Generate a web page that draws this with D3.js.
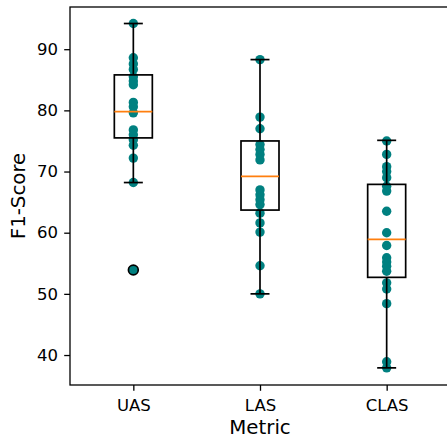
<!DOCTYPE html>
<html>
<head>
<meta charset="utf-8">
<script src="https://cdn.jsdelivr.net/npm/d3@7"></script>
<style>
  body { margin: 0; background: #fff; }
  svg { display: block; font-family: "DejaVu Sans", sans-serif; }
</style>
</head>
<body>
<div id="chart"></div>
<script>
// data
const metrics = ['UAS', 'LAS', 'CLAS'];

const uasScores = [94.2, 88.6, 87.6, 86.7, 85.5, 84.8, 84.2, 81.3, 80.6, 79.6, 76.8, 76.0, 75.2, 74.3, 72.2, 68.2, 53.9];
const lasScores = [88.3, 78.9, 77.0, 74.4, 73.6, 72.8, 71.9, 67.0, 66.2, 65.4, 64.6, 63.2, 61.6, 60.1, 54.6, 50.0];
const clasScores = [75.0, 72.8, 70.8, 70.0, 69.0, 67.6, 66.8, 63.5, 60.0, 57.9, 55.9, 55.2, 54.5, 53.7, 51.8, 50.8, 48.4, 38.9, 37.9];

// box statistics as drawn
const q1s = [75.5, 63.7, 52.7];
const medians = [79.8, 69.2, 58.9];
const q3s = [85.8, 75.0, 67.9];
const whiskerLo = [68.2, 50.0, 37.9];
const whiskerHi = [94.2, 88.3, 75.1];
const fliers = [[53.9], [], []];

const yTicks = [40, 50, 60, 70, 80, 90];

// layout
const fullWidth = 447;
const fullHeight = 439;
const margin = { top: 7, left: 70, bottom: 54 };
const plotRight = 450; // right spine falls just past the picture edge
const height = fullHeight - margin.top - margin.bottom;

const svg = d3.select('#chart').append('svg')
  .attr('width', fullWidth)
  .attr('height', fullHeight);

const x = d3.scalePoint()
  .domain(metrics)
  .range([margin.left, plotRight])
  .padding(0.5);

const y = d3.scaleLinear()
  .domain([35.1, 96.9])
  .range([margin.top + height, margin.top]);

const boxW = x.step() * 0.3;
const capW = boxW / 2;
const lw = 1.7;

const scores = [uasScores, lasScores, clasScores];
const groups = metrics.map((m, i) => ({
  metric: m,
  values: scores[i],
  q1: q1s[i], med: medians[i], q3: q3s[i],
  lo: whiskerLo[i], hi: whiskerHi[i],
  fliers: fliers[i]
}));

// points (under the box lines)
const points = groups.flatMap(g => g.values.map(v => ({ metric: g.metric, v })));
svg.append('g').selectAll('circle')
  .data(points)
  .join('circle')
  .attr('cx', d => x(d.metric))
  .attr('cy', d => y(d.v))
  .attr('r', 4.7)
  .attr('fill', '#008080');

// boxes
const bg = svg.append('g').selectAll('g')
  .data(groups)
  .join('g');

bg.append('line') // lower whisker
  .attr('x1', d => x(d.metric)).attr('x2', d => x(d.metric))
  .attr('y1', d => y(d.q1)).attr('y2', d => y(d.lo))
  .attr('stroke', '#000').attr('stroke-width', lw);

bg.append('line') // upper whisker
  .attr('x1', d => x(d.metric)).attr('x2', d => x(d.metric))
  .attr('y1', d => y(d.q3)).attr('y2', d => y(d.hi))
  .attr('stroke', '#000').attr('stroke-width', lw);

bg.append('line')
  .attr('x1', d => x(d.metric) - capW / 2).attr('x2', d => x(d.metric) + capW / 2)
  .attr('y1', d => y(d.lo)).attr('y2', d => y(d.lo))
  .attr('stroke', '#000').attr('stroke-width', lw);

bg.append('line')
  .attr('x1', d => x(d.metric) - capW / 2).attr('x2', d => x(d.metric) + capW / 2)
  .attr('y1', d => y(d.hi)).attr('y2', d => y(d.hi))
  .attr('stroke', '#000').attr('stroke-width', lw);

bg.append('rect')
  .attr('x', d => x(d.metric) - boxW / 2)
  .attr('y', d => y(d.q3))
  .attr('width', boxW)
  .attr('height', d => y(d.q1) - y(d.q3))
  .attr('fill', 'none')
  .attr('stroke', '#000').attr('stroke-width', lw);

bg.append('line')
  .attr('x1', d => x(d.metric) - boxW / 2).attr('x2', d => x(d.metric) + boxW / 2)
  .attr('y1', d => y(d.med)).attr('y2', d => y(d.med))
  .attr('stroke', '#ff7f0e').attr('stroke-width', lw);

bg.selectAll('circle.flier')
  .data(d => d.fliers.map(v => ({ metric: d.metric, v })))
  .join('circle')
  .attr('class', 'flier')
  .attr('cx', d => x(d.metric))
  .attr('cy', d => y(d.v))
  .attr('r', 4.9)
  .attr('fill', 'none')
  .attr('stroke', '#000').attr('stroke-width', lw);

// axes
const xAxisG = svg.append('g')
  .attr('transform', `translate(0,${margin.top + height})`)
  .call(d3.axisBottom(x).tickSizeOuter(0).tickSize(5.8).tickPadding(8.2));

const yAxisG = svg.append('g')
  .attr('transform', `translate(${margin.left},0)`)
  .call(d3.axisLeft(y).tickValues(yTicks).tickSizeOuter(0).tickSize(5.8).tickPadding(6.2));

[xAxisG, yAxisG].forEach(a => {
  a.select('.domain').remove();
  a.selectAll('.tick line').attr('stroke', '#000').attr('stroke-width', 1.3);
  a.selectAll('.tick text')
    .attr('fill', '#000')
    .style('font-family', '"DejaVu Sans", sans-serif')
    .style('font-size', '16.5px');
});

// frame
svg.append('rect')
  .attr('x', margin.left)
  .attr('y', margin.top)
  .attr('width', plotRight - margin.left)
  .attr('height', height)
  .attr('fill', 'none')
  .attr('stroke', '#000')
  .attr('stroke-width', 1.3);

// labels
svg.append('text')
  .attr('x', (margin.left + plotRight) / 2)
  .attr('y', 434)
  .attr('text-anchor', 'middle')
  .style('font-size', '19.8px')
  .text('Metric');

svg.append('text')
  .attr('transform', `translate(25,${margin.top + height / 2}) rotate(-90)`)
  .attr('text-anchor', 'middle')
  .style('font-size', '19.8px')
  .text('F1-Score');
</script>
</body>
</html>
